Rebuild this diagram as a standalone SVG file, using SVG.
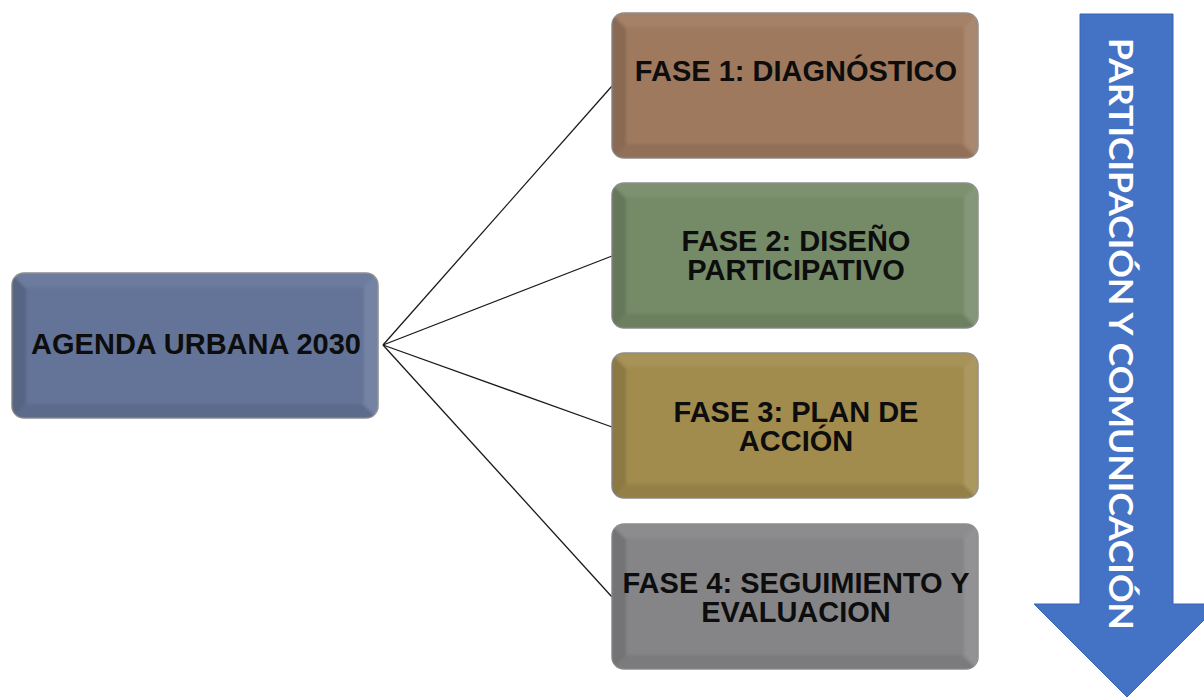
<svg xmlns="http://www.w3.org/2000/svg" xmlns:xlink="http://www.w3.org/1999/xlink" width="1204" height="698" viewBox="0 0 1204 698">
  <style>
    .box { stroke: #8c8c8c; stroke-width: 1.5; }
    .lbl { font-family: "Liberation Sans", Arial, sans-serif; font-weight: bold; font-size: 29px; fill: #0d0d0d; text-anchor: middle; }
    .conn { stroke: #1a1a1a; stroke-width: 1.3; fill: none; }
    .vt { font-family: Lato, "Open Sans", sans-serif; font-weight: bold; font-size: 33px; fill: #ffffff; text-anchor: middle; }
  </style>
  <defs>
    <clipPath id="boxclip" clipPathUnits="userSpaceOnUse">
      <rect x="0" y="0" width="366" height="145" rx="12" ry="12"/>
    </clipPath>
    <filter id="soft" x="-5%" y="-5%" width="110%" height="110%">
      <feGaussianBlur stdDeviation="1.8"/>
    </filter>
    <symbol id="bevel" overflow="visible">
      <g clip-path="url(#boxclip)">
        <g filter="url(#soft)">
          <polygon points="0,0 366,0 352,14 14,14" fill="#ffffff" fill-opacity="0.06"/>
          <polygon points="366,0 366,145 352,131 352,14" fill="#ffffff" fill-opacity="0.11"/>
          <polygon points="0,145 366,145 352,131 14,131" fill="#000000" fill-opacity="0.08"/>
          <polygon points="0,0 14,14 14,131 0,145" fill="#000000" fill-opacity="0.13"/>
        </g>
      </g>
    </symbol>
  </defs>
  <rect width="1204" height="698" fill="#ffffff"/>

  <g id="connectors">
    <line class="conn" x1="383" y1="345" x2="612" y2="86"/>
    <line class="conn" x1="383" y1="345" x2="612" y2="256"/>
    <line class="conn" x1="383" y1="345" x2="612" y2="427"/>
    <line class="conn" x1="383" y1="345" x2="612" y2="597"/>
  </g>

  <g id="agenda">
    <rect class="box" x="12" y="273" width="366" height="145" rx="12" ry="12" fill="#647498"/>
    <use xlink:href="#bevel" href="#bevel" x="12" y="273"/>
    <text class="lbl" x="196" y="354">AGENDA URBANA 2030</text>
  </g>

  <g id="fase1">
    <rect class="box" x="612" y="13" width="366" height="145" rx="12" ry="12" fill="#9E795E"/>
    <use xlink:href="#bevel" href="#bevel" x="612" y="13"/>
    <text class="lbl" x="796" y="81">FASE 1: DIAGNÓSTICO</text>
  </g>

  <g id="fase2">
    <rect class="box" x="612" y="183" width="366" height="145" rx="12" ry="12" fill="#758A67"/>
    <use xlink:href="#bevel" href="#bevel" x="612" y="183"/>
    <text class="lbl" x="796" y="251">FASE 2: DISEÑO</text>
    <text class="lbl" x="796" y="280">PARTICIPATIVO</text>
  </g>

  <g id="fase3">
    <rect class="box" x="612" y="353" width="366" height="145" rx="12" ry="12" fill="#A18B4D"/>
    <use xlink:href="#bevel" href="#bevel" x="612" y="353"/>
    <text class="lbl" x="796" y="422">FASE 3: PLAN DE</text>
    <text class="lbl" x="796" y="451">ACCIÓN</text>
  </g>

  <g id="fase4">
    <rect class="box" x="612" y="524" width="366" height="145" rx="12" ry="12" fill="#858588"/>
    <use xlink:href="#bevel" href="#bevel" x="612" y="524"/>
    <text class="lbl" x="796" y="593">FASE 4: SEGUIMIENTO Y</text>
    <text class="lbl" x="796" y="622">EVALUACION</text>
  </g>

  <g id="participacion">
    <polygon points="1080,14 1173,14 1173,604 1220,604 1127,697 1034,604 1080,604" fill="#4472C4" stroke="#3b65b0" stroke-width="1"/>
    <text class="vt" transform="translate(1109,334) rotate(90)" x="0" y="0" textLength="592" lengthAdjust="spacingAndGlyphs">PARTICIPACIÓN Y COMUNICACIÓN</text>
  </g>
</svg>
